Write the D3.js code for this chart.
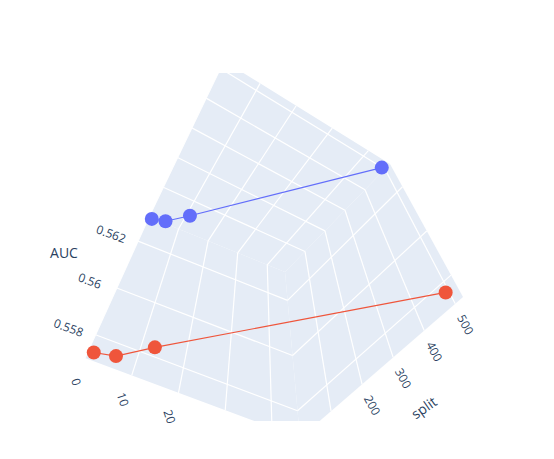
<!DOCTYPE html>
<html>
<head>
<meta charset="utf-8">
<script src="https://cdn.jsdelivr.net/npm/d3@7"></script>
<style>
body { margin: 0; background: #fff; }
text { font-family: "Open Sans", sans-serif; fill: #2a3f5f; }
</style>
</head>
<body>
<div id="chart"></div>
<script>
var width = 554, height = 459;

// data
var xVals = [1, 5, 11, 45];
var splitVals = [8, 25, 55, 500];
var aucBlue = [0.5629, 0.5628, 0.5630, 0.5630];
var aucRed = [0.5572, 0.5571, 0.5575, 0.5574];
var xTicks = [0, 10, 20, 30, 40];
var xLabels = [0, 10, 20];
var splitTicks = [100, 200, 300, 400, 500];
var splitLabels = [200, 300, 400, 500];
var aucTicks = [0.558, 0.56, 0.562];

// screen corners of the scene box, keyed u v w (x, split, AUC)
var corners = {
    "000": [85, 358], "100": [300, 438], "110": [463, 297], "010": [226, 176],
    "001": [149, 217], "101": [285, 272], "111": [390, 164], "011": [224, 61]
};

var xS = d3.scaleLinear().domain([0, 46]).range([0, 1]);
var sS = d3.scaleLinear().domain([0, 525]).range([0, 1]);
var zS = d3.scaleLinear().domain([0.55701, 0.56303]).range([0, 1]);

function proj(u, v, w) {
    var p = [0, 0];
    [0, 1].forEach(function (a) {
        [0, 1].forEach(function (b) {
            [0, 1].forEach(function (c) {
                var k = (a ? u : 1 - u) * (b ? v : 1 - v) * (c ? w : 1 - w);
                var q = corners["" + a + b + c];
                p[0] += k * q[0];
                p[1] += k * q[1];
            });
        });
    });
    return p;
}

var svg = d3.select("#chart").append("svg")
    .attr("width", width)
    .attr("height", height);

svg.append("clipPath").attr("id", "scene")
    .append("rect").attr("x", 0).attr("y", 73).attr("width", width).attr("height", 348);

var scene = svg.append("g").attr("clip-path", "url(#scene)");

// walls: left (split=0), right (x=max), top (AUC=max)
var walls = [
    function (s, t) { return proj(s, 0, t); },
    function (s, t) { return proj(1, s, t); },
    function (s, t) { return proj(s, t, 1); }
];
walls.forEach(function (f) {
    scene.append("path")
        .attr("d", d3.line()([f(0, 0), f(1, 0), f(1, 1), f(0, 1)]) + "Z")
        .attr("fill", "#E5ECF6");
});

function grid(a, b) {
    scene.append("line")
        .attr("x1", a[0]).attr("y1", a[1]).attr("x2", b[0]).attr("y2", b[1])
        .attr("stroke", "#fff").attr("stroke-width", 1.2);
}
xTicks.forEach(function (t) {
    var u = xS(t);
    grid(proj(u, 0, 0), proj(u, 0, 1));
    grid(proj(u, 0, 1), proj(u, 1, 1));
});
splitTicks.forEach(function (t) {
    var v = sS(t);
    grid(proj(1, v, 0), proj(1, v, 1));
    grid(proj(1, v, 1), proj(0, v, 1));
});
aucTicks.forEach(function (t) {
    var w = zS(t);
    grid(proj(0, 0, w), proj(1, 0, w));
    grid(proj(1, 0, w), proj(1, 1, w));
});

// series
function series(auc, color) {
    var pts = auc.map(function (z, i) { return proj(xS(xVals[i]), sS(splitVals[i]), zS(z)); });
    scene.append("path")
        .attr("d", d3.line()(pts))
        .attr("fill", "none").attr("stroke", color).attr("stroke-width", 1.2);
    scene.selectAll(null).data(pts).enter().append("circle")
        .attr("cx", d => d[0]).attr("cy", d => d[1]).attr("r", 7)
        .attr("fill", color);
}
series(aucBlue, "#636efa");
series(aucRed, "#EF553B");

// tick labels
function label(p, dx, dy, rot, txt) {
    svg.append("text")
        .attr("transform", `translate(${p[0] + dx}, ${p[1] + dy}) rotate(${rot})`)
        .attr("text-anchor", "middle").attr("dy", "0.35em")
        .style("font-size", "12px")
        .text(txt);
}
xLabels.forEach(function (t) {
    label(proj(xS(t), 0, 0), -9, 24, 72, t);
});
splitLabels.forEach(function (t) {
    label(proj(1, sS(t), 0), 10, 21, 62, t);
});
aucTicks.forEach(function (t) {
    label(proj(0, 0, zS(t)), -27, -7, 20, t);
});

svg.append("text")
    .attr("x", 64).attr("y", 258).attr("text-anchor", "middle")
    .style("font-size", "14px").text("AUC");
svg.append("text")
    .attr("transform", "translate(427, 412) rotate(-35)")
    .attr("text-anchor", "middle")
    .style("font-size", "14px").text("split");
</script>
</body>
</html>
